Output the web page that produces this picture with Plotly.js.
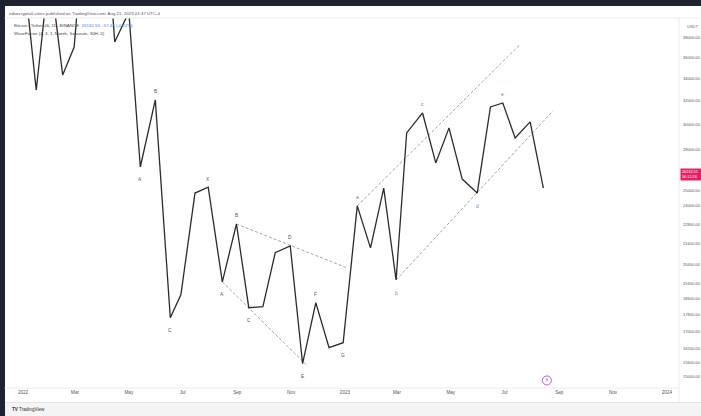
<!DOCTYPE html>
<html>
<head>
<meta charset="utf-8">
<script src="https://cdn.plot.ly/plotly-3.0.1.min.js"></script>
<style>
  html, body { margin:0; padding:0; width:701px; height:416px; overflow:hidden; background:#1f2230; }
  #card { position:absolute; left:5px; top:6px; width:696px; height:410px; background:#ffffff; }
  #foot { position:absolute; left:5px; top:402px; width:696px; height:14px; background:#f4f4f4; border-top:1px solid #e4e4e4; }
  #chart { position:absolute; left:0; top:0; width:701px; height:416px; }
</style>
</head>
<body>
<div id="card"></div>
<div id="foot"></div>
<div id="chart"></div>
<script>
// ---- data ----
const waveDates = [
  '2022-01-01','2022-01-16','2022-01-31','2022-02-15','2022-02-28','2022-03-07','2022-03-24','2022-04-08',
  '2022-04-15','2022-05-01','2022-05-14','2022-05-31','2022-06-17','2022-06-29','2022-07-15','2022-07-30',
  '2022-08-15','2022-08-31','2022-09-14','2022-09-30','2022-10-14','2022-10-31','2022-11-14','2022-11-29',
  '2022-12-14','2022-12-30','2023-01-15','2023-01-30','2023-02-14','2023-02-28','2023-03-12','2023-03-30',
  '2023-04-14','2023-04-29','2023-05-14','2023-05-31','2023-06-15','2023-06-29','2023-07-13','2023-07-30',
  '2023-08-14'
];
const waveValues = [
  46400, 32950, 46000, 34330, 37070, 45500, 41500, 47500,
  37590, 40800, 26680, 32070, 17650, 18790, 24840, 25250,
  19470, 22820, 18140, 18190, 21090, 21490, 15560, 18390,
  16260, 16480, 23980, 21370, 25180, 19570, 29290, 30940,
  26980, 29700, 25810, 24840, 31460, 31800, 28890, 30190,
  25180
];
const waveLabels = ['A','B','C','X','A','B','C','D','E','F','G','a','b','c','d','e'];
const waveLabelDates = ['2022-05-14','2022-05-31','2022-06-17','2022-07-30','2022-08-15','2022-08-31',
  '2022-09-14','2022-10-31','2022-11-14','2022-11-29','2022-12-30','2023-01-15','2023-02-28',
  '2023-03-30','2023-05-31','2023-06-29'];

// trend lines (start / end)
const triUpperDates = ['2022-08-31','2023-01-03'];
const triUpperValues = [22820, 20240];
const triLowerDates = ['2022-08-15','2022-11-18'];
const triLowerValues = [19470, 15520];
const chanUpperDates = ['2023-01-15','2023-07-18'];
const chanUpperValues = [23980, 37280];
const chanLowerDates = ['2023-02-28','2023-08-25'];
const chanLowerValues = [19570, 31130];

const priceTicks = [38000,36000,34000,32000,30000,28000,25000,24000,22800,21600,20400,19400,18600,17800,17000,16200,15600,15000];
const timeTickDates = ['2022-01-01','2022-03-01','2022-05-01','2022-07-01','2022-09-01','2022-11-01',
  '2023-01-01','2023-03-01','2023-05-01','2023-07-01','2023-09-01','2023-11-01','2024-01-01'];
const timeTickText = ['2022','Mar','May','Jul','Sep','Nov','2023','Mar','May','Jul','Sep','Nov','2024'];
const lastPrice = 26132.55;
const lastChange = -57.44;
const lastChangePct = -0.22;
const eventDate = '2023-08-18';
const eventValue = 14860;

// ---- chart ----
const FONT = 'Liberation Sans, Arial, sans-serif';
const dashStyle = {color:'#a3a3a3', width:1, dash:'3px,2px'};
const traces = [
  {x:triUpperDates, y:triUpperValues, mode:'lines', line:dashStyle, hoverinfo:'skip'},
  {x:triLowerDates, y:triLowerValues, mode:'lines', line:dashStyle, hoverinfo:'skip'},
  {x:chanUpperDates, y:chanUpperValues, mode:'lines', line:dashStyle, hoverinfo:'skip'},
  {x:chanLowerDates, y:chanLowerValues, mode:'lines', line:dashStyle, hoverinfo:'skip'},
  {x:waveDates, y:waveValues, mode:'lines', line:{color:'#2b2b2b', width:1.3}, hoverinfo:'skip'},
  {x:[eventDate], y:[eventValue], mode:'markers+text', text:['B'], textposition:'middle center',
   textfont:{size:4, color:'#a64fc4', family:FONT}, cliponaxis:false,
   marker:{size:9, color:'#ffffff', line:{color:'#b660d0', width:1}}, hoverinfo:'skip'}
];

const annotations = [];
waveLabels.forEach((t, k) => {
  const i = waveDates.indexOf(waveLabelDates[k]);
  const v = waveValues[i];
  const isHigh = v > waveValues[i-1] && (i+1 >= waveValues.length || v > waveValues[i+1]);
  const lower = t === t.toLowerCase();
  annotations.push({
    x: waveDates[i], y: Math.log10(v), xref:'x', yref:'y', text:t, showarrow:false,
    yshift: isHigh ? 8 : -13, xshift: 0,
    font:{size:4.8, color: lower ? '#4f82da' : '#555555', family:FONT}
  });
});

const px2px = (px) => (px - 6) / 673;
const py2py = (py) => (388 - py) / 370;
annotations.push(
  {xref:'paper', yref:'paper', x:px2px(7), y:py2py(13.5), xanchor:'left', yanchor:'middle', showarrow:false,
   text:'eduecrypto0-cities published on TradingView.com, Aug 21, 2023 01:47 UTC-4',
   font:{size:4.4, color:'#555', family:FONT}},
  {xref:'paper', yref:'paper', x:px2px(12), y:py2py(25), xanchor:'left', yanchor:'middle', showarrow:false,
   text:'Bitcoin / TetherUS, 1D, BINANCE  <span style="color:#4a7ad6">' + lastPrice.toFixed(2) + '  ' +
        lastChange.toFixed(2) + ' (' + lastChangePct.toFixed(2) + '%)</span>',
   font:{size:4.4, color:'#444', family:FONT}},
  {xref:'paper', yref:'paper', x:px2px(12), y:py2py(33), xanchor:'left', yanchor:'middle', showarrow:false,
   text:'WaveFactor (4, 3, 1, Month, Separate, 30H, 2)',
   font:{size:4.4, color:'#444', family:FONT}},
  {xref:'paper', yref:'paper', x:px2px(685), y:py2py(26), xanchor:'left', yanchor:'middle', showarrow:false,
   text:'USDT', font:{size:4, color:'#666', family:FONT}},
  {xref:'paper', yref:'y', x:px2px(680), y:Math.log10(lastPrice), xanchor:'left', yanchor:'middle', showarrow:false,
   text: lastPrice.toFixed(2) + '<br>06:12:26', align:'left', bgcolor:'#e91e63', borderpad:1, width:22,
   font:{size:3.8, color:'#ffffff', family:FONT}},
  {xref:'paper', yref:'paper', x:px2px(10), y:py2py(409.5), xanchor:'left', yanchor:'middle', showarrow:false,
   text:'<b>TV</b> TradingView', font:{size:4.6, color:'#333', family:FONT}}
);

const layout = {
  width:701, height:416,
  margin:{l:6, r:22, t:18, b:28},
  paper_bgcolor:'rgba(0,0,0,0)', plot_bgcolor:'#ffffff',
  showlegend:false,
  font:{family:FONT},
  xaxis:{type:'date', range:['2021-12-12 17:00','2024-01-14 19:00'], tickvals:timeTickDates, ticktext:timeTickText,
         showgrid:false, zeroline:false, showline:false, ticks:'', tickfont:{size:4.6, color:'#555'}, fixedrange:true},
  yaxis:{type:'log', side:'right', range:[4.1630, 4.6036], tickvals:priceTicks, ticktext:priceTicks.map(v => v.toFixed(2)),
         showgrid:false, zeroline:false, showline:false, ticks:'', ticklabelstandoff:3,
         tickfont:{size:4, color:'#555'}, fixedrange:true},
  shapes:[
    {type:'line', xref:'paper', yref:'paper', x0:1, x1:1, y0:-0.038, y1:1, line:{color:'#ececec', width:1}},
    {type:'line', xref:'paper', yref:'paper', x0:-0.002, x1:1, y0:0, y1:0, line:{color:'#ececec', width:1}},
    {type:'line', xref:'paper', yref:'paper', x0:-0.002, x1:1.04, y0:1, y1:1, line:{color:'#ececec', width:1}}
  ],
  annotations:annotations
};

Plotly.newPlot('chart', traces, layout, {displayModeBar:false, staticPlot:true});
</script>
</body>
</html>
